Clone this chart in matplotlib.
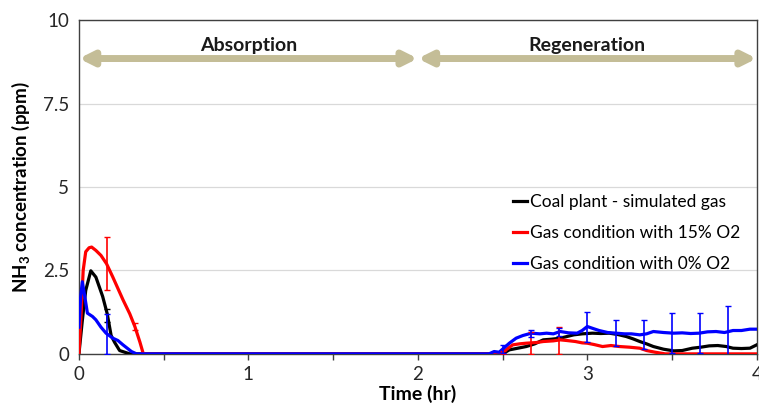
import matplotlib
matplotlib.use("Agg")
import matplotlib.pyplot as plt

plt.rcParams["font.family"] = ["Lato", "DejaVu Sans"]
plt.rcParams["mathtext.default"] = "regular"

# Coal plant - simulated gas
coal_t = [0, 0.02, 0.04, 0.07, 0.10, 0.14, 0.167, 0.19, 0.21, 0.24, 0.3,
          2.5, 2.54, 2.59, 2.64, 2.69, 2.74, 2.79, 2.84, 2.88, 2.92, 2.97, 3.03,
          3.08, 3.13, 3.18, 3.23, 3.27, 3.31, 3.35, 3.39, 3.45, 3.51, 3.56, 3.62,
          3.67, 3.72, 3.77, 3.82, 3.86, 3.91, 3.96, 4.0]
coal_c = [0, 1.0, 1.9, 2.49, 2.3, 1.72, 1.2, 0.55, 0.35, 0.1, 0,
          0, 0.12, 0.17, 0.22, 0.3, 0.42, 0.44, 0.47, 0.52, 0.57, 0.6, 0.62,
          0.61, 0.62, 0.58, 0.52, 0.45, 0.37, 0.3, 0.22, 0.14, 0.09, 0.1, 0.17,
          0.2, 0.24, 0.25, 0.22, 0.17, 0.16, 0.17, 0.27]

# Gas condition with 15% O2
o15_t = [0, 0.01, 0.025, 0.04, 0.06, 0.075, 0.1, 0.13, 0.163, 0.2, 0.26, 0.3,
         0.33, 0.36, 0.38, 2.48, 2.52, 2.56, 2.6, 2.64, 2.7, 2.74, 2.8, 2.84,
         2.88, 2.93, 2.97, 3.0, 3.04, 3.09, 3.14, 3.19, 3.25, 3.31, 3.35, 3.4,
         3.46, 4.0]
o15_c = [0, 0.9, 2.5, 3.06, 3.18, 3.2, 3.1, 2.95, 2.7, 2.3, 1.62, 1.2,
         0.82, 0.35, 0, 0, 0.12, 0.27, 0.3, 0.32, 0.34, 0.37, 0.39, 0.42,
         0.4, 0.37, 0.33, 0.32, 0.28, 0.22, 0.25, 0.22, 0.2, 0.17, 0.1, 0.05,
         0, 0]

# Gas condition with 0% O2
o0_t = [0, 0.01, 0.02, 0.035, 0.05, 0.08, 0.1, 0.13, 0.16, 0.2, 0.23, 0.26,
        0.29, 0.31, 0.34, 2.42, 2.45, 2.48, 2.5, 2.54, 2.58, 2.62, 2.67, 2.72,
        2.76, 2.8, 2.84, 2.89, 2.94, 2.97, 3.0, 3.04, 3.07, 3.12, 3.17, 3.22,
        3.26, 3.31, 3.35, 3.39, 3.45, 3.51, 3.56, 3.61, 3.66, 3.71, 3.76, 3.81,
        3.86, 3.91, 3.96, 4.0]
o0_c = [0.8, 1.7, 2.16, 1.7, 1.22, 1.12, 1.02, 0.8, 0.62, 0.47, 0.4, 0.27,
        0.15, 0.07, 0, 0, 0.07, 0.05, 0.14, 0.32, 0.47, 0.55, 0.62, 0.6,
        0.62, 0.6, 0.67, 0.63, 0.62, 0.7, 0.82, 0.75, 0.7, 0.64, 0.62, 0.6,
        0.6, 0.57, 0.6, 0.67, 0.64, 0.62, 0.63, 0.61, 0.62, 0.66, 0.67, 0.64,
        0.7, 0.7, 0.74, 0.74]

# error bars (every 10 min)
coal_err_t = [0.167]
coal_err_c = [1.15]
coal_err = [0.2]

o15_err_t = [0.167, 0.333, 2.5, 2.667, 2.833]
o15_err_c = [2.7, 0.82, 0.05, 0.33, 0.41]
o15_err = [0.8, 0.1, 0.05, 0.33, 0.41]

o0_err_t = [0.167, 2.5, 2.667, 2.833, 3.0, 3.167, 3.333, 3.5, 3.667, 3.833]
o0_err_c = [0.6, 0.14, 0.62, 0.67, 0.8, 0.62, 0.58, 0.62, 0.62, 0.68]
o0_err = [0.6, 0.12, 0.1, 0.12, 0.44, 0.38, 0.42, 0.6, 0.6, 0.74]

phases = ["Absorption", "Regeneration"]
phase_bounds = [(0, 2), (2, 4)]

fig = plt.figure(figsize=(7.59, 4.11), dpi=100)
ax = fig.add_axes([0.104, 0.139, 0.893, 0.812])

ax.grid(axis="y", color="#d9d9d9", lw=0.9)
ax.set_axisbelow(True)

ax.plot(coal_t, coal_c, color="black", lw=2.3, label="Coal plant - simulated gas", zorder=3)
ax.plot(o15_t, o15_c, color="#ff0000", lw=2.3, label="Gas condition with 15% O2", zorder=3)
ax.plot(o0_t, o0_c, color="#0000ff", lw=2.3, label="Gas condition with 0% O2", zorder=3)

ax.errorbar(coal_err_t, coal_err_c, yerr=coal_err, fmt="none", ecolor="black",
            elinewidth=1.2, capsize=2, zorder=3)
ax.errorbar(o15_err_t, o15_err_c, yerr=o15_err, fmt="none", ecolor="#ff0000",
            elinewidth=1.2, capsize=2, zorder=3)
ax.errorbar(o0_err_t, o0_err_c, yerr=o0_err, fmt="none", ecolor="#0000ff",
            elinewidth=1.2, capsize=2, zorder=3)

# phase arrows
for name, (a, b) in zip(phases, phase_bounds):
    ax.annotate("", xy=(b, 8.85), xytext=(a, 8.85),
                arrowprops=dict(arrowstyle="<|-|>,head_length=0.8,head_width=0.4",
                                color="#c4bd97", lw=5, shrinkA=0, shrinkB=0),
                annotation_clip=False, zorder=4)
    ax.text((a + b) / 2, 9.25, name, ha="center", va="center",
            fontsize=14, fontweight="bold", color="#1a1a1a")

ax.set_xlim(0, 4)
ax.set_ylim(0, 10)
ax.set_xticks([0, 1, 2, 3, 4])
ax.set_xticks([0.5, 1.5, 2.5, 3.5], minor=True)
ax.set_yticks([0, 2.5, 5, 7.5, 10])
ax.set_yticklabels(["0", "2.5", "5", "7.5", "10"])
ax.tick_params(axis="x", which="both", direction="out", length=4, width=1,
               color="#404040", labelsize=13.5, labelcolor="#262626", pad=5)
ax.tick_params(axis="y", length=0, labelsize=13.5, labelcolor="#262626", pad=7)

for s in ax.spines.values():
    s.set_color("#404040")
    s.set_linewidth(1)

ax.set_xlabel("Time (hr)", fontsize=14, fontweight="bold", labelpad=1)
ax.set_ylabel("NH$_3$ concentration (ppm)", fontsize=13.5, fontweight="bold", labelpad=8)

ax.legend(loc="center right", bbox_to_anchor=(0.975, 0.362), frameon=False,
          fontsize=12.5, handlelength=0.8, handletextpad=0.15, labelspacing=0.85,
          borderpad=0, borderaxespad=0)

fig.savefig("out.png", dpi=100)
